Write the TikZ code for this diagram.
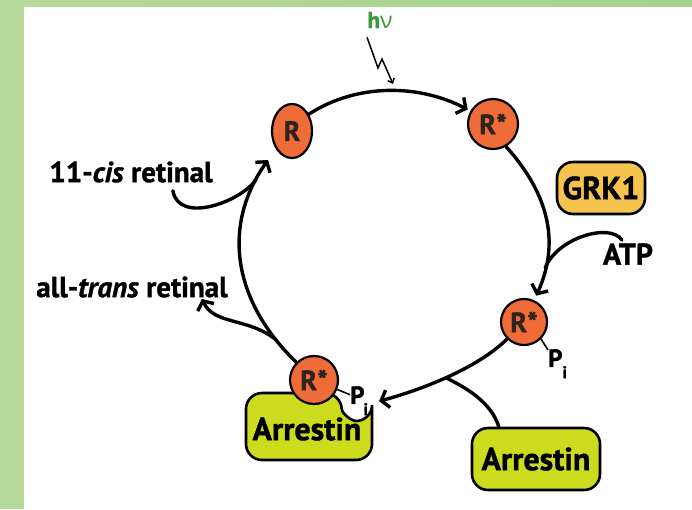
\documentclass[tikz,border=0pt]{standalone}
\usepackage{fontspec}
\setmainfont{PT Sans}[BoldFeatures={FakeBold=1.2},BoldItalicFeatures={FakeBold=1.2}]
\newfontfamily\grkfont{Open Sans}
\usetikzlibrary{shapes.geometric,arrows.meta,calc}
\definecolor{bggreen}{HTML}{B5D99B}
\definecolor{bggreenR}{HTML}{A4D18D}
\definecolor{rorange}{HTML}{EF6C38}
\definecolor{rtext}{HTML}{2E231F}
\definecolor{grkfill}{HTML}{F6C44E}
\definecolor{arrfill}{HTML}{CDDB1E}
\definecolor{hvgreen}{HTML}{3C9A3A}
\begin{document}
\begin{tikzpicture}[x=1pt,y=-1pt,
  lbl/.style={font=\bfseries\fontsize{29}{32}\selectfont, inner sep=0pt, text=black},
  boxtxt/.style={font=\bfseries\fontsize{32}{34}\selectfont},
  rec/.style={circle, draw=black, line width=2.2pt, fill=rorange, text=rtext, inner sep=0pt,
    minimum size=#1, font=\bfseries\fontsize{28}{30}\selectfont},
  pbox/.style={rectangle, rounded corners=16pt, draw=black, line width=2.6pt, boxtxt,
    minimum width=#1, minimum height=56pt, inner sep=0pt},
  flow/.style={line width=3.4pt, line cap=round, -{Straight Barb[length=7pt,width=18pt]}},
  plain/.style={line width=3.4pt, line cap=round},
  link/.style={line width=1.6pt},
  pilbl/.style={font=\bfseries\fontsize{25}{27}\selectfont, inner sep=0pt, anchor=north west}
]
\useasboundingbox (0,0) rectangle (692,509);
\fill[white] (0,0) rectangle (692,509);
\fill[bggreen] (0,0) rectangle (24,509);
\shade[left color=bggreen, right color=bggreenR] (0,0) rectangle (692,6);

% nodes
\node[ellipse, draw=black, line width=2.2pt, fill=rorange, text=rtext, inner sep=0pt,
  minimum width=40pt, minimum height=54pt, font=\bfseries\fontsize{28}{30}\selectfont] (R) at (292,131) {R};
\node[rec=50pt] (Rs1) at (493,124) {R*};
\node[rec=46pt] (Rs2) at (524,322) {R*};
\node[pbox=88pt, fill=grkfill, minimum height=52pt] (GRK) at (601,188) {GRK1};
\node[lbl, font=\bfseries\fontsize{30}{32}\selectfont] (ATP) at (628,254) {ATP};
\node[lbl] (cis) at (131,172) {11-\textit{cis} retinal};
\node[lbl] (trans) at (132,287) {all-\textit{trans} retinal};
\node[inner sep=0pt, text=hvgreen, font=\fontsize{23}{25}\selectfont] (hv) at (380,20) {\textbf{h}{\grkfont ν}};
\node[pbox=128pt, fill=arrfill, minimum height=62pt] (Arr2) at (536,459) {Arrestin};

% bound arrestin with notch
\draw[fill=arrfill, line width=2.6pt, rounded corners=16pt]
  (372,421) -- (372,460) -- (246,460) -- (246,393) -- (341,393)
  .. controls (342,414) and (352,421) .. cycle;
\node[boxtxt, inner sep=0pt] (Arr1) at (307,429) {Arrestin};
\node[rec=48pt] (Rs3) at (314,380) {R*};

\node[pilbl] (pi2) at (548,349) {P\raisebox{-0.45em}{\fontsize{17}{17}\selectfont i}};
\node[pilbl] (pi3) at (350,386) {P\kern-1pt\raisebox{-0.45em}{\fontsize{17}{17}\selectfont i}};
\draw[link] (Rs2.-45) -- ($(pi2.north west)+(0,1)$);
\draw[link] (Rs3.-22) -- ($(pi3.west)+(0,-6)$);

% light
\coordinate (hvtip) at (393,84);
\draw[line width=1.5pt, -{Straight Barb[length=4pt,width=7pt]}]
  ($(hv.south)+(-13,9)$) -- (378,68) -- (382,59) -- (hvtip);

% cycle connectors
\draw[flow, shorten >=3pt] (R.45) .. controls +(50,-32) and +(-50,-26) .. (Rs1.150);

\draw[flow, shorten >=5pt] (Rs1.-60) .. controls +(45,50) and +(25,-55) .. (Rs2.65)
  coordinate[pos=0.8] (mA);
\draw[plain] ($(ATP.north)+(-6,-3)$) .. controls +(-12,-18) and +(12,-30) .. (mA);

\draw[flow, shorten >=6pt] (Rs2.-135) .. controls +(-30,30) and +(45,-12) .. ($(pi3.east)+(5,2)$)
  coordinate[pos=0.5] (mB);
\draw[plain] (Arr2.139) .. controls +(-8,-25) and +(20,10) .. (mB);

\coordinate (tipR) at (268,160);
\draw[flow] (Rs3.135) .. controls (232,300) and (222,225) .. (tipR)
  coordinate[pos=0.12] (mD) coordinate[pos=0.9] (mC);
\draw[plain] ($(cis.south east)+(-40,8)$) .. controls +(6,34) and +(-15,22) .. (mC);
\coordinate (tipT) at (202,299);
\draw[flow] (mD) .. controls +(-28,-22) and +(12,26) .. (tipT);
\end{tikzpicture}
\end{document}
